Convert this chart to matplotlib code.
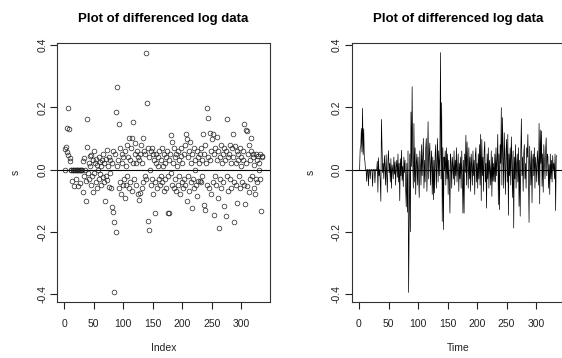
import numpy as np
import matplotlib
matplotlib.use("Agg")
import matplotlib.pyplot as plt

plt.rcParams['font.family'] = ['Liberation Sans', 'DejaVu Sans']

# differenced log series (index 1..335)
s = [
    0.0, 0.067, 0.073, 0.132, 0.056, 0.197, 0.048, 0.131, 0.038, 0.027,
    0.0, 0.0, -0.038, 0.0, 0.0, -0.052, 0.0, 0.0, -0.03, 0.0,
    0.0, 0.0, -0.054, 0.0, 0.0, 0.0, -0.043, 0.0, 0.0, 0.0,
    0.027, -0.073, 0.038, -0.02, 0.0, -0.038, -0.102, 0.161, 0.073, -0.01,
    0.02, -0.03, 0.045, 0.01, -0.05, 0.048, -0.02, -0.073, 0.03, 0.061,
    -0.01, 0.02, -0.04, 0.035, -0.06, 0.015, 0.0, -0.03, 0.04, -0.015,
    0.025, -0.05, 0.01, 0.03, -0.025, 0.05, -0.04, 0.02, -0.1, 0.035,
    -0.02, 0.062, -0.035, 0.01, -0.055, 0.04, -0.01, 0.03, -0.06, -0.12,
    0.02, -0.137, 0.06, -0.395, -0.17, 0.05, -0.2, 0.185, 0.01, 0.266,
    0.03, -0.06, 0.148, -0.04, 0.07, -0.08, 0.02, 0.05, -0.05, 0.04,
    -0.03, -0.09, 0.06, 0.01, -0.05, 0.08, -0.02, 0.04, 0.1, -0.06,
    0.03, -0.04, 0.07, 0.1, -0.07, 0.02, 0.154, -0.03, 0.05, 0.085,
    -0.05, 0.02, 0.06, -0.08, 0.04, -0.097, 0.03, -0.075, 0.05, 0.08,
    -0.06, 0.02, 0.1, -0.04, 0.06, -0.02, 0.05, 0.376, -0.03, 0.215,
    -0.167, 0.07, -0.193, 0.04, 0.0, 0.06, -0.05, 0.07, -0.03, 0.05,
    -0.08, 0.03, -0.04, -0.14, 0.05, 0.02, -0.06, 0.04, 0.01, -0.03,
    0.06, -0.05, 0.03, -0.02, 0.07, -0.04, 0.01, 0.05, -0.07, 0.02,
    -0.03, 0.04, -0.06, 0.06, -0.02, -0.14, 0.03, -0.14, 0.05, -0.01,
    0.11, -0.05, 0.089, 0.02, -0.06, 0.07, -0.03, 0.04, -0.07, 0.05,
    0.01, -0.05, 0.06, -0.02, 0.03, -0.08, 0.045, 0.07, -0.04, 0.02,
    -0.06, 0.05, -0.03, 0.08, -0.05, 0.113, -0.1, 0.097, -0.02, 0.04,
    -0.07, 0.06, 0.09, -0.04, 0.02, -0.124, 0.05, -0.03, 0.07, -0.06,
    0.03, 0.0, -0.05, 0.06, -0.086, 0.04, -0.038, 0.02, -0.038, 0.05,
    -0.04, 0.07, -0.02, 0.03, 0.113, -0.113, 0.05, -0.129, 0.08, 0.02,
    0.199, -0.05, 0.167, 0.04, -0.06, 0.118, 0.03, -0.08, 0.06, 0.097,
    -0.04, 0.113, -0.147, 0.05, -0.02, 0.07, -0.05, 0.105, 0.03, -0.09,
    0.06, -0.188, 0.04, -0.03, 0.08, -0.06, 0.02, 0.05, -0.04, 0.07,
    -0.118, 0.03, -0.15, 0.06, 0.163, -0.02, 0.04, -0.07, 0.05, 0.08,
    -0.03, 0.02, -0.06, 0.07, 0.04, 0.113, -0.04, -0.17, 0.075, 0.02,
    -0.05, 0.06, -0.107, 0.03, 0.05, -0.02, 0.07, -0.06, 0.04, 0.01,
    -0.04, 0.06, 0.03, -0.05, 0.148, -0.11, 0.127, 0.02, 0.124, -0.054,
    0.05, -0.073, 0.08, 0.03, -0.03, 0.06, 0.102, -0.02, 0.05, 0.04,
    -0.06, 0.016, -0.08, 0.05, -0.03, 0.03, -0.04, 0.045, 0.0, 0.02,
    -0.03, 0.05, -0.132, 0.04, 0.045,
]
idx = np.arange(1, len(s) + 1)

xticks = [0, 50, 100, 150, 200, 250, 300]
yticks = [-0.4, -0.2, 0.0, 0.2, 0.4]
ytick_labels = ["-0.4", "-0.2", "0.0", "0.2", "0.4"]

W, H = 562, 358
fig = plt.figure(figsize=(W / 100, H / 100), dpi=100)

# R style limits: data range padded by 4%
n = len(s)
xlim = (1 - 0.04 * (n - 1), n + 0.04 * (n - 1))
rng = max(s) - min(s)
ylim = (min(s) - 0.04 * rng, max(s) + 0.04 * rng)


def r_axes(left_px, xlabel):
    ax = fig.add_axes([left_px / W, (H - 302) / H, 213 / W, 259 / H])
    ax.set_xlim(*xlim)
    ax.set_ylim(*ylim)
    for sp in ax.spines.values():
        sp.set_linewidth(0.8)
        sp.set_color('#333333')
    ax.set_xticks(xticks)
    ax.set_xticklabels([str(t) for t in xticks])
    ax.set_yticks(yticks)
    ax.set_yticklabels(ytick_labels, rotation=90, va='center')
    ax.tick_params(axis='both', direction='out', length=5, width=0.8,
                   labelsize=7.5, colors='#222222')
    ax.tick_params(axis='x', pad=7)
    ax.tick_params(axis='y', pad=2)
    ax.set_title("Plot of differenced log data", fontsize=9.5, fontweight='bold', pad=15)
    ax.set_xlabel(xlabel, fontsize=7.5, color='#222222')
    ax.set_ylabel("s", fontsize=7.5, color='#222222')
    ax.xaxis.set_label_coords(0.5, -0.16)
    ax.yaxis.set_label_coords(-0.17, 0.5)
    ax.axhline(0, color='black', linewidth=0.8)
    return ax


ax1 = r_axes(57, "Index")
ax1.plot(idx, s, linestyle='none', marker='o', markersize=3.4,
         markerfacecolor='none', markeredgecolor='#222222', markeredgewidth=0.5)

ax2 = r_axes(351.7, "Time")
ax2.plot(idx, s, color='black', linewidth=0.5)

fig.savefig("out.png", dpi=100)
